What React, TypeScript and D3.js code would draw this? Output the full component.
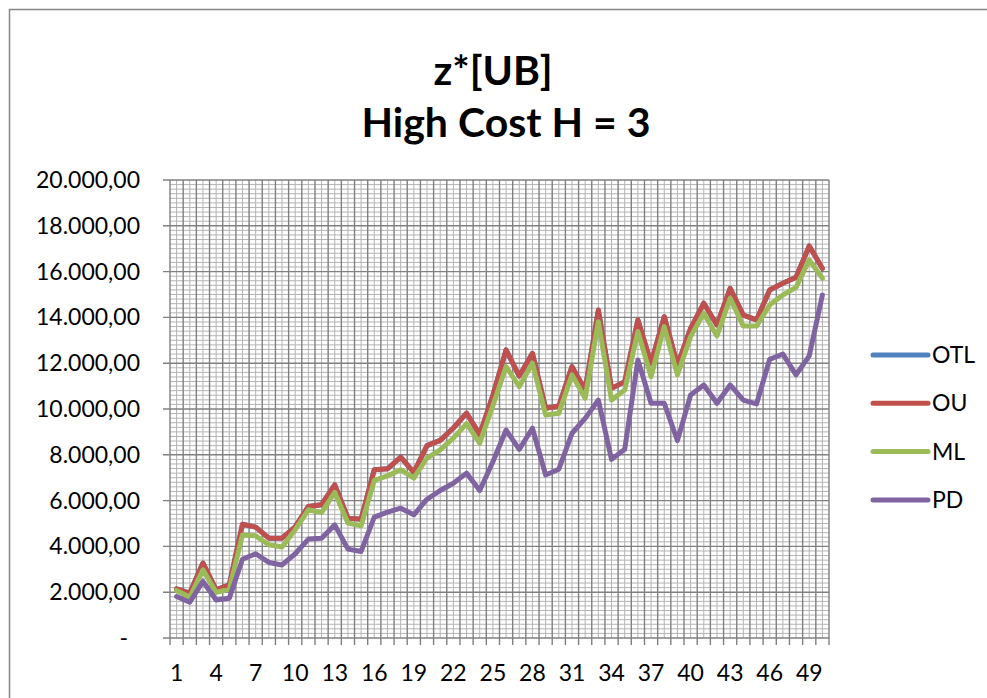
import React from "react";
import * as d3 from "d3";

const categories: number[] = Array.from({ length: 50 }, (_, i) => i + 1);

const otl: number[] = [
  2150, 1960, 3270, 2100, 2320, 4970, 4840, 4360, 4360, 4850,
  5745, 5820, 6690, 5235, 5190, 7350, 7390, 7900, 7230, 8400,
  8630, 9170, 9820, 8880, 10600, 12580, 11440, 12430, 10030, 10130,
  11850, 10830, 14320, 10900, 11190, 13890, 12000, 14030, 11920, 13520,
  14620, 13670, 15270, 14100, 13890, 15200, 15490, 15750, 17120, 16140,
];
const ou: number[] = [
  2150, 1960, 3270, 2100, 2320, 4970, 4840, 4360, 4360, 4850,
  5745, 5820, 6690, 5235, 5190, 7350, 7390, 7900, 7230, 8400,
  8630, 9170, 9820, 8880, 10600, 12580, 11440, 12430, 10030, 10130,
  11850, 10830, 14320, 10900, 11190, 13890, 12000, 14030, 11920, 13520,
  14620, 13670, 15270, 14100, 13890, 15200, 15490, 15750, 17120, 16140,
];
const ml: number[] = [
  2070, 1780, 2980, 1990, 2130, 4500, 4460, 4070, 3970, 4730,
  5600, 5480, 6360, 5020, 4900, 6880, 7080, 7350, 6980, 7860,
  8220, 8730, 9360, 8510, 10150, 11850, 10980, 12000, 9740, 9810,
  11490, 10470, 13810, 10390, 10830, 13380, 11410, 13600, 11490, 13160,
  14180, 13190, 14830, 13620, 13620, 14540, 14980, 15310, 16510, 15710,
];
const pd: number[] = [
  1810, 1560, 2470, 1660, 1740, 3440, 3680, 3300, 3190, 3680,
  4320, 4360, 4940, 3880, 3780, 5280, 5500, 5670, 5380, 6060,
  6440, 6760, 7200, 6440, 7700, 9080, 8240, 9160, 7120, 7370,
  8940, 9590, 10390, 7800, 8240, 12140, 10250, 10250, 8620, 10610,
  11050, 10250, 11050, 10390, 10220, 12170, 12400, 11490, 12320, 14980,
];

const seriesNames: string[] = ["OTL", "OU", "ML", "PD"];
const seriesColors: string[] = ["#4F81BD", "#C0504D", "#9BBB59", "#8064A2"];
const seriesData: number[][] = [otl, ou, ml, pd];

const yTicks: number[] = [0, 2000, 4000, 6000, 8000, 10000, 12000, 14000, 16000, 18000, 20000];
const xLabelCats: number[] = [1, 4, 7, 10, 13, 16, 19, 22, 25, 28, 31, 34, 37, 40, 43, 46, 49];

const titleLines: string[] = ["z*[UB]", "High Cost H = 3"];

const W = 987;
const H = 698;
const plot = { left: 170, right: 829, top: 180, bottom: 638 };

const locale = d3.formatLocale({ decimal: ",", thousands: ".", grouping: [3], currency: ["", ""] });
const fmt = locale.format(",.2f");

export default function App() {
  const x = d3
    .scaleBand<number>()
    .domain(categories)
    .range([plot.left, plot.right])
    .paddingInner(0)
    .paddingOuter(0);
  const y = d3.scaleLinear().domain([0, 20000]).range([plot.bottom, plot.top]);
  const bw = x.bandwidth();
  const cx = (c: number) => (x(c) as number) + bw / 2;

  const minorY = d3.range(0, 20001, 200).filter((v) => v % 2000 !== 0);
  const boundaries = categories.map((c) => x(c) as number).concat([plot.right]);

  const line = d3
    .line<number>()
    .x((_, i) => cx(categories[i]))
    .y((d) => y(d));

  const font = "Lato, 'Open Sans', sans-serif";

  return (
    <svg
      width={W}
      height={H}
      style={{ position: "absolute", left: 0, top: 0, background: "#fff" }}
      fontFamily={font}
    >
      <rect x={0} y={0} width={W} height={H} fill="#fff" />
      <rect x={9.5} y={9.5} width={1100} height={1100} fill="none" stroke="#868686" strokeWidth={1.5} />

      <text x={493} y={85} textAnchor="middle" fontSize={41} fontWeight={700} fill="#000">
        {titleLines[0]}
      </text>
      <text x={506} y={137} textAnchor="middle" fontSize={41} fontWeight={700} fill="#000">
        {titleLines[1]}
      </text>

      {/* minor gridlines */}
      <g stroke="#B4B4B4" strokeWidth={1}>
        {minorY.map((v) => (
          <line key={"my" + v} x1={plot.left} x2={plot.right} y1={y(v)} y2={y(v)} />
        ))}
        {categories.map((c) => (
          <line key={"mx" + c} x1={cx(c)} x2={cx(c)} y1={plot.top} y2={plot.bottom} />
        ))}
      </g>
      {/* major gridlines */}
      <g stroke="#808080" strokeWidth={1.4}>
        {yTicks.map((v) => (
          <line key={"Y" + v} x1={plot.left - 7} x2={plot.right} y1={y(v)} y2={y(v)} />
        ))}
        {boundaries.map((b, i) => (
          <line key={"X" + i} x1={b} x2={b} y1={plot.top} y2={plot.bottom + 7} />
        ))}
      </g>

      {/* y labels */}
      <g fontSize={23} fill="#000">
        {yTicks.map((v) => (
          <text
            key={"yl" + v}
            x={v === 0 ? 128 : 140}
            y={y(v)}
            dy="0.35em"
            textAnchor="end"
          >
            {v === 0 ? "-" : fmt(v)}
          </text>
        ))}
      </g>
      {/* x labels */}
      <g fontSize={23} fill="#000">
        {xLabelCats.map((c) => (
          <text key={"xl" + c} x={cx(c)} y={681} textAnchor="middle">
            {String(c)}
          </text>
        ))}
      </g>

      {/* series */}
      {seriesData.map((d, i) => (
        <path
          key={seriesNames[i]}
          d={line(d) || ""}
          fill="none"
          stroke={seriesColors[i]}
          strokeWidth={5}
          strokeLinejoin="round"
          strokeLinecap="round"
        />
      ))}

      {/* legend */}
      {seriesNames.map((n, i) => {
        const ly = 355 + i * 48.3;
        return (
          <g key={"lg" + n}>
            <line x1={873} x2={928} y1={ly} y2={ly} stroke={seriesColors[i]} strokeWidth={5} strokeLinecap="round" />
            <text x={932} y={ly} dy="0.35em" fontSize={23} fill="#000">
              {n}
            </text>
          </g>
        );
      })}
    </svg>
  );
}
